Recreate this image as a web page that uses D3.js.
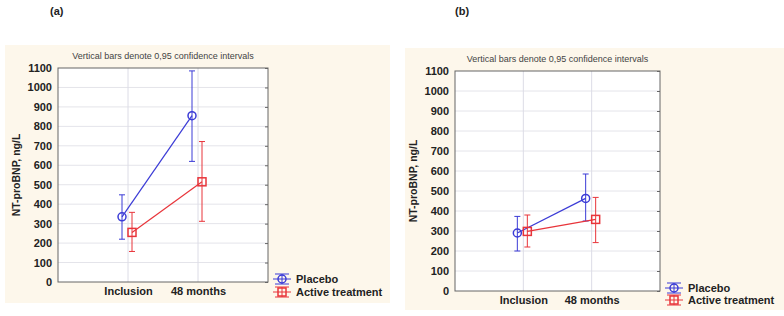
<!DOCTYPE html>
<html>
<head>
<meta charset="utf-8">
<script src="https://cdn.jsdelivr.net/npm/d3@7"></script>
<style>
  body { margin:0; background:#fff; }
  svg { font-family: "Liberation Sans", Arial, sans-serif; }
</style>
</head>
<body>
<svg id="chart" width="784" height="316"></svg>
<script>
// data
var categories = ["Inclusion", "48 months"];
var yTicks = [0,100,200,300,400,500,600,700,800,900,1000,1100];
var seriesNames = ["Placebo", "Active treatment"];

// panel (a)
var placeboA = [335, 855];
var placeboA_lo = [220, 620];
var placeboA_hi = [448, 1085];
var activeA = [255, 515];
var activeA_lo = [157, 312];
var activeA_hi = [358, 722];

// panel (b)
var placeboB = [290, 463];
var placeboB_lo = [200, 350];
var placeboB_hi = [373, 585];
var activeB = [298, 358];
var activeB_lo = [220, 242];
var activeB_hi = [380, 468];

var colors = {"Placebo":"#3b3bd6", "Active treatment":"#e8343a"};
var svg = d3.select("#chart");

function drawPanel(p){
    var g = svg.append("g");
    // beige background
    g.append("rect")
        .attr("x", p.bg[0]).attr("y", p.bg[1])
        .attr("width", p.bg[2]).attr("height", p.bg[3])
        .attr("fill", "#fdf7eb");
    g.append("text")
        .attr("x", p.lab[0]).attr("y", p.lab[1])
        .attr("font-size", 11).attr("font-weight", "bold").attr("fill", "#222")
        .text(p.label);

    var x = d3.scalePoint().domain(categories).range([p.l, p.r]).padding(1);
    var y = d3.scaleLinear().domain([0, 1100]).range([p.b, p.t]);

    g.append("rect")
        .attr("x", p.l).attr("y", p.t)
        .attr("width", p.r - p.l).attr("height", p.b - p.t)
        .attr("fill", "#fff");

    // grid
    g.append("g").selectAll("line").data(yTicks.slice(1, -1)).join("line")
        .attr("x1", p.l).attr("x2", p.r)
        .attr("y1", d => y(d)).attr("y2", d => y(d))
        .attr("stroke", "#e4e4ea").attr("stroke-width", 1);
    g.append("g").selectAll("line").data(categories).join("line")
        .attr("x1", d => x(d)).attr("x2", d => x(d))
        .attr("y1", p.t).attr("y2", p.b)
        .attr("stroke", "#dcdce6").attr("stroke-width", 1);

    // axes
    var yAxis = g.append("g").attr("transform", "translate(" + p.l + ",0)")
        .call(d3.axisLeft(y).tickValues(yTicks).tickFormat(d3.format("d")).tickSize(0).tickPadding(6));
    yAxis.select(".domain").remove();
    yAxis.selectAll("text").attr("font-size", 11).attr("font-weight", "bold")
        .attr("fill", "#222").attr("font-family", "Liberation Sans, Arial, sans-serif");

    // right axis inner ticks
    g.append("g").attr("transform", "translate(" + p.r + ",0)")
        .call(d3.axisRight(y).tickValues(yTicks).tickSize(-3).tickFormat(""))
        .call(a => a.select(".domain").remove())
        .selectAll("line").attr("stroke", "#666");

    var xAxis = g.append("g").attr("transform", "translate(0," + p.b + ")")
        .call(d3.axisBottom(x).tickSize(0).tickPadding(5));
    xAxis.select(".domain").remove();
    xAxis.selectAll("text").attr("font-size", 11).attr("font-weight", "bold")
        .attr("fill", "#222").attr("font-family", "Liberation Sans, Arial, sans-serif");

    g.append("rect")
        .attr("x", p.l).attr("y", p.t)
        .attr("width", p.r - p.l).attr("height", p.b - p.t)
        .attr("fill", "none").attr("stroke", "#666").attr("stroke-width", 1);

    // title
    g.append("text")
        .attr("x", (p.l + p.r) / 2).attr("y", p.t - 9)
        .attr("text-anchor", "middle").attr("font-size", 9).attr("fill", "#444")
        .text("Vertical bars denote 0,95 confidence intervals");

    // y label
    g.append("text")
        .attr("transform", "translate(" + p.yl + "," + ((p.t + p.b) / 2) + ") rotate(-90)")
        .attr("text-anchor", "middle").attr("font-size", 10.5).attr("font-weight", "bold")
        .attr("fill", "#222")
        .text("NT-proBNP, ng/L");

    p.series.forEach(function(s){
        var c = colors[s.name];
        var pts = categories.map((k, i) => ({x: x(k) + s.dx, m: s.mean[i], lo: s.lo[i], hi: s.hi[i]}));
        g.append("path")
            .attr("d", d3.line().x(d => d.x).y(d => y(d.m))(pts))
            .attr("fill", "none").attr("stroke", c).attr("stroke-width", 1.2);
        var eb = g.append("g").selectAll("g").data(pts).join("g").attr("stroke", c).attr("stroke-width", 1);
        eb.append("line").attr("x1", d => d.x).attr("x2", d => d.x)
            .attr("y1", d => y(d.lo)).attr("y2", d => y(d.hi));
        eb.append("line").attr("x1", d => d.x - 3).attr("x2", d => d.x + 3)
            .attr("y1", d => y(d.lo)).attr("y2", d => y(d.lo));
        eb.append("line").attr("x1", d => d.x - 3).attr("x2", d => d.x + 3)
            .attr("y1", d => y(d.hi)).attr("y2", d => y(d.hi));
        drawMarker(g, pts.map(d => [d.x, y(d.m)]), s.shape, c);
    });

    // legend
    seriesNames.forEach(function(name, i){
        var c = colors[name];
        var ly = p.leg[1] + i * p.legStep;
        var lx = p.leg[0];
        var lg = g.append("g").attr("stroke", c).attr("stroke-width", 1);
        lg.append("line").attr("x1", lx).attr("x2", lx + 18).attr("y1", ly).attr("y2", ly);
        lg.append("line").attr("x1", lx + 9).attr("x2", lx + 9).attr("y1", ly - 5).attr("y2", ly + 5);
        lg.append("line").attr("x1", lx + 2).attr("x2", lx + 16).attr("y1", ly - 5).attr("y2", ly - 5);
        lg.append("line").attr("x1", lx + 2).attr("x2", lx + 16).attr("y1", ly + 5).attr("y2", ly + 5);
        drawMarker(g, [[lx + 9, ly]], i === 0 ? "circle" : "square", c);
        g.append("text").attr("x", lx + 23).attr("y", ly + 4)
            .attr("font-size", 11).attr("font-weight", "bold").attr("fill", "#222")
            .text(name);
    });
}

function drawMarker(g, pts, shape, c){
    if (shape === "circle") {
        g.append("g").selectAll("circle").data(pts).join("circle")
            .attr("cx", d => d[0]).attr("cy", d => d[1]).attr("r", 4)
            .attr("fill", "none").attr("stroke", c).attr("stroke-width", 1.5);
    } else {
        g.append("g").selectAll("rect").data(pts).join("rect")
            .attr("x", d => d[0] - 4).attr("y", d => d[1] - 4)
            .attr("width", 8).attr("height", 8)
            .attr("fill", "none").attr("stroke", c).attr("stroke-width", 1.5);
    }
}

drawPanel({
    label: "(a)", lab: [50, 15],
    bg: [5, 45, 385, 258],
    l: 58, r: 268, t: 68, b: 282, yl: 20,
    leg: [273, 279], legStep: 13,
    series: [
        {name: "Placebo", shape: "circle", dx: -6, mean: placeboA, lo: placeboA_lo, hi: placeboA_hi},
        {name: "Active treatment", shape: "square", dx: 4, mean: activeA, lo: activeA_lo, hi: activeA_hi}
    ]
});

drawPanel({
    label: "(b)", lab: [455, 15],
    bg: [405, 48, 379, 262],
    l: 455, r: 660, t: 71, b: 291, yl: 417,
    leg: [665, 288], legStep: 12,
    series: [
        {name: "Placebo", shape: "circle", dx: -6, mean: placeboB, lo: placeboB_lo, hi: placeboB_hi},
        {name: "Active treatment", shape: "square", dx: 4, mean: activeB, lo: activeB_lo, hi: activeB_hi}
    ]
});
</script>
</body>
</html>
